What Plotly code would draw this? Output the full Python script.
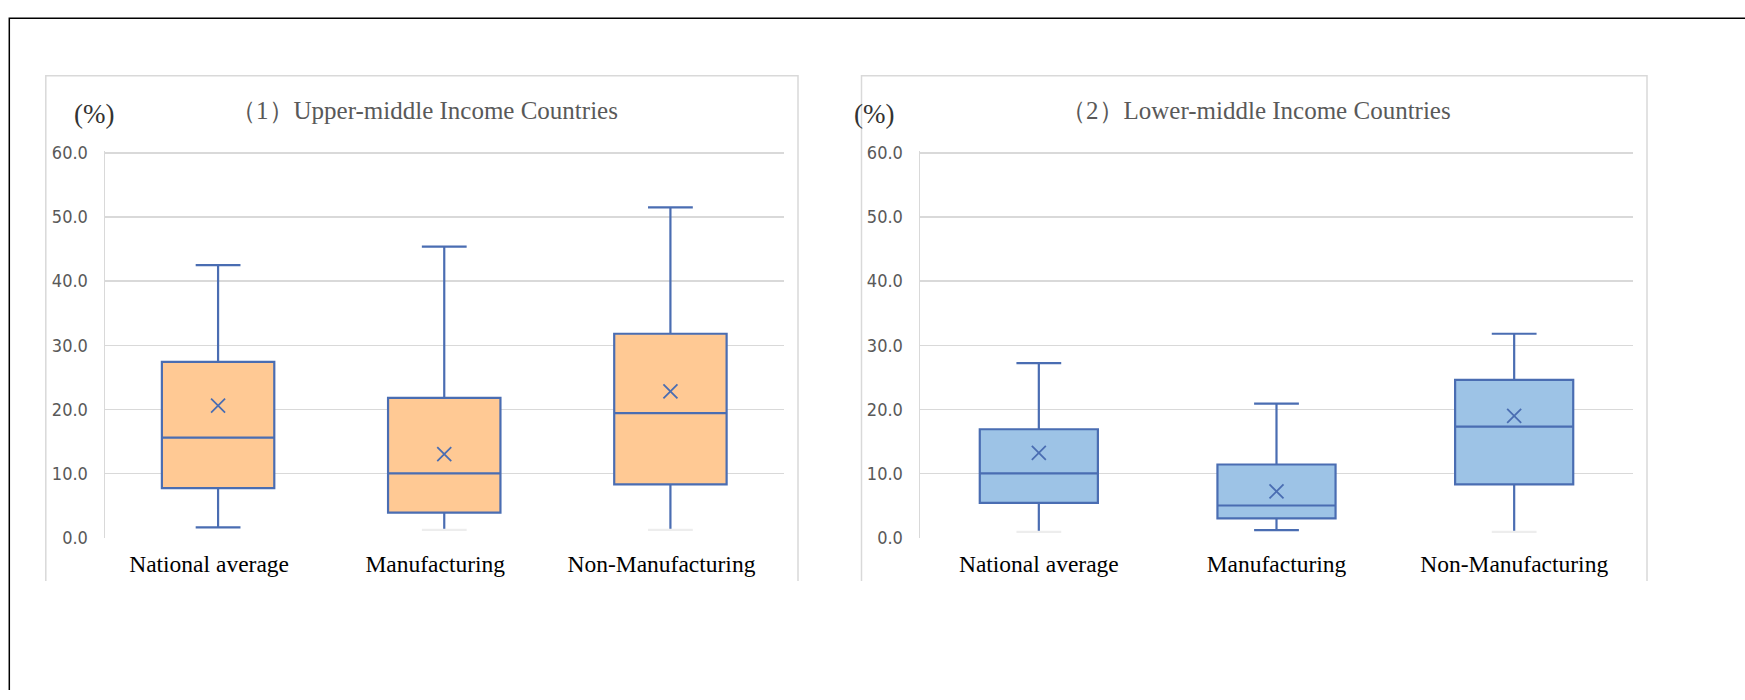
import plotly.graph_objects as go

# ---------------- data ----------------
categories = ["National average", "Manufacturing", "Non-Manufacturing"]
y_ticks = [0, 10, 20, 30, 40, 50, 60]

# (1) Upper-middle income countries
upper_lowerfence = [1.6, 1.2, 1.2]
upper_q1 = [7.7, 3.9, 8.3]
upper_median = [15.6, 10.0, 19.4]
upper_q3 = [27.4, 21.8, 31.8]
upper_upperfence = [42.5, 45.4, 51.5]
upper_mean = [20.6, 13.0, 22.8]

# (2) Lower-middle income countries
lower_lowerfence = [0.9, 1.15, 0.9]
lower_q1 = [5.4, 3.0, 8.3]
lower_median = [10.0, 5.0, 17.3]
lower_q3 = [16.9, 11.4, 24.6]
lower_upperfence = [27.2, 20.9, 31.8]
lower_mean = [13.2, 7.2, 19.0]

# whisker caps shown at lower end (True = clear cap)
upper_lowcap = [True, False, False]
lower_lowcap = [False, True, False]

titles = ["（1）Upper-middle Income Countries", "（2）Lower-middle Income Countries"]
unit_label = "(%)"

# ---------------- style ----------------
W, H = 1745, 700
LINE = "#4A6DB2"
FILL_1 = "#FFC994"
FILL_2 = "#9DC3E6"
GRID = "#D9D9D9"


def px(x):
    return x / W


def py(y):
    return 1 - y / H


fig = go.Figure()

panels = [
    dict(xa="x", ya="y", lf=upper_lowerfence, q1=upper_q1, med=upper_median, q3=upper_q3,
         uf=upper_upperfence, mean=upper_mean, fill=FILL_1, lowcap=upper_lowcap),
    dict(xa="x2", ya="y2", lf=lower_lowerfence, q1=lower_q1, med=lower_median, q3=lower_q3,
         uf=lower_upperfence, mean=lower_mean, fill=FILL_2, lowcap=lower_lowcap),
]

for p in panels:
    fig.add_trace(go.Box(
        x=categories, q1=p["q1"], median=p["med"], q3=p["q3"],
        lowerfence=p["lf"], upperfence=p["uf"],
        fillcolor=p["fill"], line=dict(color=LINE, width=2.2),
        whiskerwidth=0, width=0.497, boxpoints=False,
        xaxis=p["xa"], yaxis=p["ya"], showlegend=False, hoverinfo="skip",
    ))
    # upper whisker caps
    fig.add_trace(go.Scatter(
        x=categories, y=p["uf"], mode="markers",
        marker=dict(symbol="line-ew", size=32, color=LINE, line=dict(color=LINE, width=2.2)),
        xaxis=p["xa"], yaxis=p["ya"], showlegend=False, hoverinfo="skip",
    ))
    # lower whisker caps
    cap_cols = [LINE if c else "#EDEDED" for c in p["lowcap"]]
    fig.add_trace(go.Scatter(
        x=categories, y=p["lf"], mode="markers",
        marker=dict(symbol="line-ew", size=32, color=cap_cols, line=dict(color=cap_cols, width=2.2)),
        xaxis=p["xa"], yaxis=p["ya"], showlegend=False, hoverinfo="skip",
    ))
    # mean markers
    fig.add_trace(go.Scatter(
        x=categories, y=p["mean"], mode="markers",
        marker=dict(symbol="x-thin", size=14, color=LINE, line=dict(color=LINE, width=1.8)),
        xaxis=p["xa"], yaxis=p["ya"], showlegend=False, hoverinfo="skip",
    ))

# y range slightly above 60 so the 60 grid line is drawn while the 0 one is clipped
Y_TOP = 60.3
bottom_px, top60_px = 543.3, 148.0
top_px = bottom_px - (bottom_px - top60_px) * Y_TOP / 60
ydom = [py(bottom_px), py(top_px)]
xdom1 = [px(105), px(783.5)]
xdom2 = [px(920), px(1633)]

yaxis_style = dict(
    range=[0, Y_TOP], tickvals=y_ticks, tickformat=".1f",
    showgrid=True, gridcolor=GRID, gridwidth=1.5,
    showline=True, linecolor=GRID, linewidth=1.5,
    zeroline=False, ticks="", ticklabelstandoff=12,
    tickfont=dict(family="Liberation Sans Narrow, DejaVu Sans Condensed, Roboto, sans-serif",
                  size=18, color="#595959"),
    domain=ydom, fixedrange=True,
)
xaxis_style = dict(
    type="category", categoryorder="array", categoryarray=categories,
    range=[-0.5, 2.5], showgrid=False, showline=False, zeroline=False, ticks="",
    tickfont=dict(family="Liberation Serif, Times New Roman, serif", size=23.5, color="#000000"),
    ticklabelstandoff=10, fixedrange=True,
)

fig.update_layout(
    width=W, height=H,
    margin=dict(l=0, r=0, t=0, b=0),
    paper_bgcolor="white", plot_bgcolor="white",
    xaxis=dict(**xaxis_style, domain=xdom1, anchor="y", ticklabelshift=-9),
    yaxis=dict(**yaxis_style, anchor="x"),
    xaxis2=dict(**xaxis_style, domain=xdom2, anchor="y2"),
    yaxis2=dict(**yaxis_style, anchor="x2"),
    boxmode="overlay",
    hovermode=False,
)

shapes = []
# outer frame (left and top edges)
shapes.append(dict(type="path", xref="paper", yref="paper",
                   path=f"M {px(9.3)},{py(700)} L {px(9.3)},{py(9.5)} L {px(1745)},{py(9.5)}",
                   line=dict(color="#000000", width=1.5)))
# panel frames (cropped at the bottom)
for x0, x1 in [(45.8, 798), (861.5, 1647)]:
    shapes.append(dict(type="path", xref="paper", yref="paper",
                       path=f"M {px(x0)},{py(588)} L {px(x0)},{py(68.7)} L {px(x1)},{py(68.7)} L {px(x1)},{py(588)}",
                       line=dict(color=GRID, width=1.5)))
fig.update_layout(shapes=shapes)

annotations = []
for title, cx in zip(titles, [424, 1256]):
    annotations.append(dict(text=title, x=px(cx), y=py(104), xref="paper", yref="paper",
                            showarrow=False, xanchor="center", yanchor="middle",
                            font=dict(family="Liberation Serif, Times New Roman, serif",
                                      size=25, color="#595959")))
for cx in [94, 874]:
    annotations.append(dict(text=unit_label, x=px(cx), y=py(108), xref="paper", yref="paper",
                            showarrow=False, xanchor="center", yanchor="middle",
                            font=dict(family="Liberation Serif, Times New Roman, serif",
                                      size=27, color="#333333")))
fig.update_layout(annotations=annotations)

fig.write_html("out.html", config={"displayModeBar": False, "staticPlot": True},
               post_script="document.body.style.margin='0';")
